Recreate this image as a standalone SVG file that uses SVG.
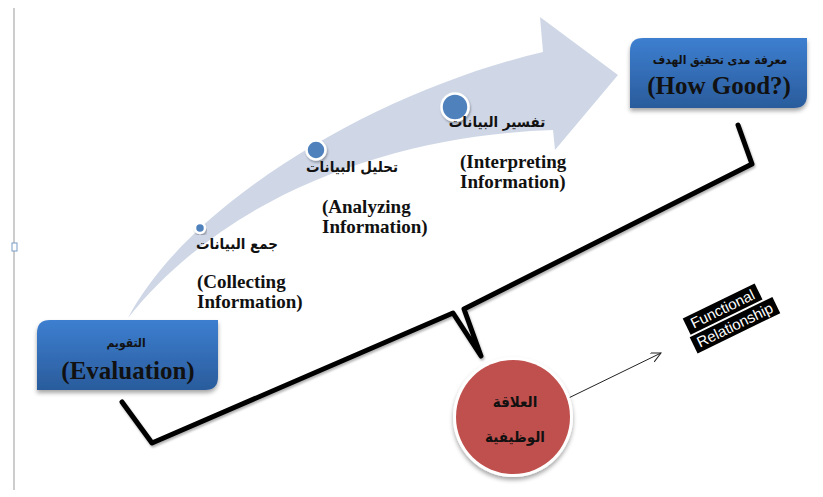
<svg xmlns="http://www.w3.org/2000/svg" width="823" height="497" viewBox="0 0 823 497">
<style>
.ar{font-family:"DejaVu Sans Condensed","DejaVu Sans",sans-serif;font-weight:bold;fill:#111;}
.en{font-family:"Liberation Serif",serif;font-weight:bold;fill:#111;}
.box{stroke:none;}
.dot{fill:#4f81bd;stroke:#fff;stroke-width:2.5;}
.lbl{font-family:"Liberation Sans",sans-serif;font-size:15px;fill:#fff;}
</style>
<defs>
<linearGradient id="bg" x1="0" y1="0" x2="0" y2="1">
<stop offset="0" stop-color="#3d7fd0"/>
<stop offset="1" stop-color="#2a5c9c"/>
</linearGradient>
<filter id="sh" x="-20%" y="-20%" width="140%" height="150%">
<feDropShadow dx="0" dy="3" stdDeviation="2" flood-color="#000" flood-opacity="0.35"/>
</filter>
<filter id="sh2" x="-20%" y="-20%" width="140%" height="140%">
<feDropShadow dx="1" dy="2" stdDeviation="1" flood-color="#000" flood-opacity="0.3"/>
</filter>
<marker id="ah" markerWidth="12" markerHeight="12" refX="10" refY="5" orient="auto" markerUnits="userSpaceOnUse">
<path d="M0,0 L10,5 L0,10" fill="none" stroke="#222" stroke-width="1"/>
</marker>
</defs>
<rect width="823" height="497" fill="#fff"/>
<g id="margin">
<line x1="14" y1="8" x2="14" y2="490" stroke="#9a9a9a" stroke-width="1"/>
<rect x="12" y="243" width="5" height="8" fill="#fff" stroke="#7a9cc6" stroke-width="1"/>
</g>
<g id="process-arrow">
<path d="M128,318 C190,200 380,90 543,52 L540,17 L618,75 L555,150 L553,130 C400,135 230,190 128,318 Z" fill="#cfd7e7"/>
</g>
<g id="step-collecting">
<circle class="dot" cx="200" cy="228" r="5" filter="url(#sh2)"/>
<text class="ar" x="237" y="249" font-size="15" text-anchor="middle">جمع البيانات</text>
<text class="en" x="197" y="288" font-size="19">(Collecting</text>
<text class="en" x="197" y="308" font-size="19">Information)</text>
</g>
<g id="step-analyzing">
<circle class="dot" cx="316" cy="150" r="9.5" filter="url(#sh2)"/>
<text class="ar" x="352" y="172" font-size="15" text-anchor="middle">تحليل البيانات</text>
<text class="en" x="322" y="213" font-size="19">(Analyzing</text>
<text class="en" x="322" y="233" font-size="19">Information)</text>
</g>
<g id="step-interpreting">
<circle class="dot" cx="455" cy="107" r="13.5" filter="url(#sh2)"/>
<text class="ar" x="497" y="127" font-size="15" text-anchor="middle">تفسير البيانات</text>
<text class="en" x="460" y="168" font-size="19">(Interpreting</text>
<text class="en" x="460" y="188" font-size="19">Information)</text>
</g>
<g id="node-howgood">
<path class="box" d="M643,38 H807 V95 Q807,108 794,108 H630 V51 Q630,38 643,38 Z" fill="url(#bg)" filter="url(#sh)"/>
<text class="ar" x="720" y="64" font-size="12" text-anchor="middle">معرفة مدى تحقيق الهدف</text>
<text class="en" x="719" y="94" font-size="25" text-anchor="middle">(How Good?)</text>
</g>
<g id="node-evaluation">
<path class="box" d="M50,320 H218 V377 Q218,390 205,390 H37 V333 Q37,320 50,320 Z" fill="url(#bg)" filter="url(#sh)"/>
<text class="ar" x="126" y="347" font-size="12" text-anchor="middle">التقويم</text>
<text class="en" x="128" y="379" font-size="25" text-anchor="middle">(Evaluation)</text>
</g>
<g id="connectors">
<path d="M122,402 L152,443 L453,313 L481,356 L464,309 L752,164 L738,125" fill="none" stroke="#000" stroke-width="5" stroke-linejoin="round" stroke-linecap="round" filter="url(#sh2)"/>
<line x1="548" y1="408" x2="661" y2="353" stroke="#222" stroke-width="1" marker-end="url(#ah)"/>
</g>
<g id="node-functional">
<circle cx="513" cy="417" r="60" fill="#fff" filter="url(#sh)"/>
<circle cx="513" cy="417" r="57" fill="#c0504d"/>
<text class="ar" x="515" y="407" font-size="15" text-anchor="middle">العلاقة</text>
<text class="ar" x="515" y="442" font-size="15" text-anchor="middle">الوظيفية</text>
</g>
<g id="label-functional" transform="translate(727,318) rotate(-26)">
<rect x="-40" y="-19" width="80" height="18" fill="#000"/>
<rect x="-42" y="1" width="92" height="18" fill="#000"/>
<text class="lbl" x="0" y="-5" text-anchor="middle">Functional</text>
<text class="lbl" x="4" y="15" text-anchor="middle">Relationship</text>
</g>
</svg>
